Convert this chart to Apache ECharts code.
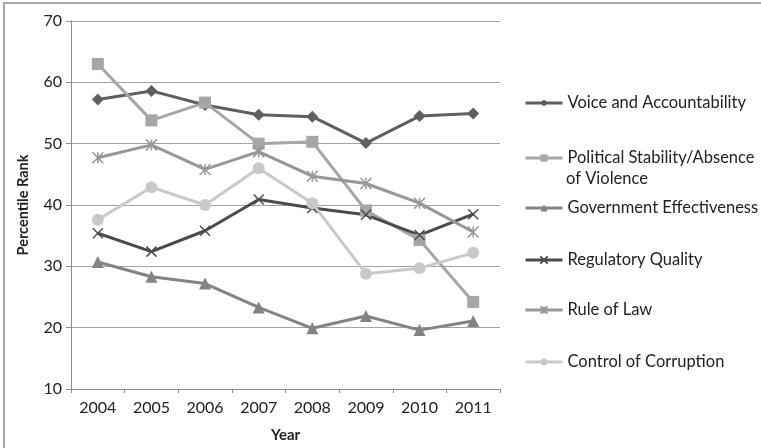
<!DOCTYPE html>
<html>
<head>
<meta charset="utf-8">
<script src="https://cdn.jsdelivr.net/npm/echarts@6/dist/echarts.min.js"></script>
<style>
  html, body { margin: 0; padding: 0; background: #fff; }
  #chart { width: 761px; height: 448px; }
</style>
</head>
<body>
<div id="chart"></div>
<script>
// Worldwide Governance Indicators, percentile rank by year
const years = ['2004', '2005', '2006', '2007', '2008', '2009', '2010', '2011'];
const voiceAccountability = [57.2, 58.6, 56.3, 54.7, 54.4, 50.1, 54.5, 54.9];
const politicalStability = [63.0, 53.8, 56.7, 50.0, 50.3, 39.1, 34.3, 24.2];
const governmentEffectiveness = [30.7, 28.3, 27.2, 23.3, 19.9, 21.9, 19.6, 21.1];
const regulatoryQuality = [35.4, 32.4, 35.8, 40.9, 39.5, 38.4, 35.1, 38.5];
const ruleOfLaw = [47.7, 49.8, 45.8, 48.7, 44.7, 43.5, 40.3, 35.6];
const controlOfCorruption = [37.6, 42.9, 40.0, 46.0, 40.3, 28.8, 29.7, 32.2];
const yTicks = { min: 10, max: 70, step: 10 };

const FONT = 'Lato, "Open Sans", sans-serif';
const crossPath = 'path://M0,0L10,10M10,0L0,10';
const starPath = 'path://M5,0L5,10M0,0L10,10M10,0L0,10';

const seriesDefs = [
  { name: 'Voice and Accountability', data: voiceAccountability, color: '#5f5f5f', symbol: 'diamond', size: 12, stroke: false },
  { name: 'Political Stability/Absence of Violence', data: politicalStability, color: '#a6a6a6', symbol: 'rect', size: 12, stroke: false },
  { name: 'Government Effectiveness', data: governmentEffectiveness, color: '#838383', symbol: 'triangle', size: 12, stroke: false },
  { name: 'Regulatory Quality', data: regulatoryQuality, color: '#4b4b4b', symbol: crossPath, size: 10, stroke: true },
  { name: 'Rule of Law', data: ruleOfLaw, color: '#979797', symbol: starPath, size: 11, stroke: true },
  { name: 'Control of Corruption', data: controlOfCorruption, color: '#c9c9c9', symbol: 'circle', size: 12, stroke: false }
];

// Legend rows: vertical centre of each entry
const legendCenters = [103, 158, 208, 260, 310, 362];

const series = seriesDefs.map(d => ({
  name: d.name,
  type: 'line',
  data: d.data,
  symbol: d.symbol,
  symbolSize: d.size,
  showSymbol: true,
  animation: false,
  lineStyle: { color: d.color, width: 3 },
  itemStyle: d.stroke
    ? { color: d.color, borderColor: d.color, borderWidth: 1.5 }
    : { color: d.color, borderWidth: 0 },
  emphasis: { disabled: true }
}));

const legends = seriesDefs.map((d, i) => ({
  data: [d.name],
  orient: 'vertical',
  left: 524,
  top: legendCenters[i] - 10,
  padding: 0,
  itemWidth: 37,
  itemHeight: 9,
  selectedMode: false,
  lineStyle: { width: 3 },
  formatter: name => name === 'Political Stability/Absence of Violence' ? 'Political Stability/Absence' : name,
  textStyle: { fontFamily: FONT, fontSize: 16.5, color: '#222', lineHeight: 20 }
}));

const chart = echarts.init(document.getElementById('chart'), null, { renderer: 'canvas' });
chart.setOption({
  backgroundColor: '#fff',
  animation: false,
  grid: { left: 71, right: 261, top: 21, bottom: 58 },
  legend: legends,
  xAxis: {
    type: 'category',
    data: years,
    boundaryGap: true,
    name: 'Year',
    nameLocation: 'middle',
    nameGap: 39,
    nameTextStyle: { fontFamily: FONT, fontSize: 15, fontWeight: 'bold', color: '#222' },
    axisLine: { lineStyle: { color: '#8c8c8c', width: 1 } },
    axisTick: { show: true, length: 4, lineStyle: { color: '#8c8c8c' } },
    axisLabel: { fontFamily: FONT, fontSize: 16, color: '#222', margin: 11 },
    splitLine: { show: false }
  },
  yAxis: {
    type: 'value',
    min: yTicks.min,
    max: yTicks.max,
    interval: yTicks.step,
    name: 'Percentile Rank',
    nameLocation: 'middle',
    nameGap: 40,
    nameRotate: 90,
    nameTextStyle: { fontFamily: FONT, fontSize: 14.5, fontWeight: 'bold', color: '#222' },
    axisLine: { show: true, lineStyle: { color: '#8c8c8c', width: 1 } },
    axisTick: { show: true, length: 5, lineStyle: { color: '#8c8c8c' } },
    axisLabel: { fontFamily: FONT, fontSize: 16, color: '#222', margin: 9 },
    splitLine: { show: true, lineStyle: { color: '#a3a3a3', width: 1 } }
  },
  series: series,
  graphic: [
    {
      type: 'rect',
      shape: { x: 4, y: 3, width: 800, height: 500 },
      style: { fill: 'none', stroke: '#a8a8a8', lineWidth: 2 },
      silent: true
    },
    {
      type: 'text',
      left: 566,
      top: 170,
      style: { text: 'of Violence', font: '16.5px ' + FONT, fill: '#222' },
      silent: true
    }
  ]
});
</script>
</body>
</html>
